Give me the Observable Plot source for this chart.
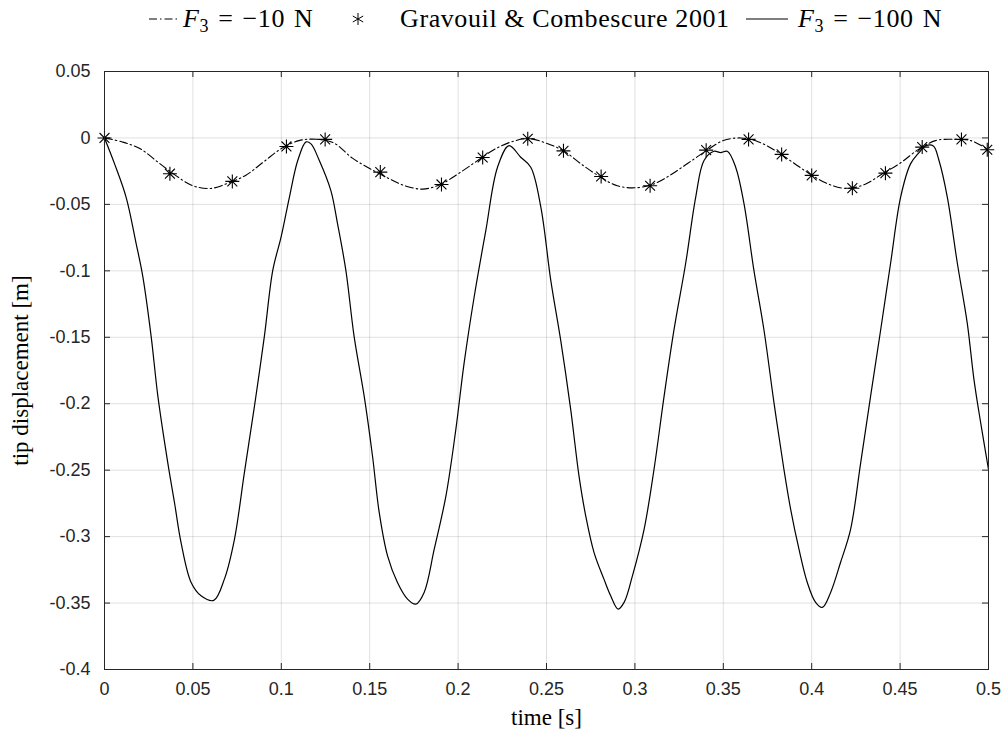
<!DOCTYPE html>
<html>
<head>
<meta charset="utf-8">
<script src="https://cdn.jsdelivr.net/npm/d3@7"></script>
<script src="https://cdn.jsdelivr.net/npm/@observablehq/plot@0.6"></script>
<style>
  body { margin: 0; background: #fff; }
  #wrap { width: 1008px; height: 744px; position: relative; overflow: hidden; }
  #legend { position: absolute; left: 0; top: 0; width: 1008px; height: 40px; font-family: "Liberation Serif", serif; font-size: 26px; letter-spacing: 0.6px; color: #000; }
  #legend .it { position: absolute; top: 4px; height: 30px; display: flex; align-items: center; white-space: nowrap; }
  #legend .tx { display: inline-block; white-space: nowrap; line-height: 30px; }
  #legend .fx { word-spacing: 2px; }
  #legend sub { font-size: 18px; vertical-align: -5px; line-height: 0; }
  #chart { position: absolute; left: 0; top: 40px; }
</style>
</head>
<body>
<div id="wrap">
  <div id="legend"></div>
  <div id="chart"></div>
</div>
<script>
// ---- data ----
const xTicks = [0, 0.05, 0.1, 0.15, 0.2, 0.25, 0.3, 0.35, 0.4, 0.45, 0.5];
const yTicks = [0.05, 0, -0.05, -0.1, -0.15, -0.2, -0.25, -0.3, -0.35, -0.4];

// F3 = -10 N (dash-dot)
const t10 = [0, 0.01, 0.02, 0.03, 0.04, 0.05, 0.06, 0.07, 0.08, 0.09, 0.10, 0.11, 0.12, 0.13, 0.14, 0.15, 0.16, 0.17, 0.18, 0.19, 0.20, 0.21, 0.22, 0.23, 0.24, 0.25, 0.26, 0.27, 0.28, 0.29, 0.30, 0.31, 0.32, 0.33, 0.34, 0.35, 0.36, 0.37, 0.38, 0.39, 0.40, 0.41, 0.42, 0.43, 0.44, 0.45, 0.46, 0.47, 0.48, 0.49, 0.50];
const disp10 = [0, -0.003, -0.008, -0.018, -0.028, -0.036, -0.038, -0.034, -0.028, -0.018, -0.008, -0.002, -0.001, -0.004, -0.015, -0.023, -0.030, -0.036, -0.0385, -0.035, -0.027, -0.018, -0.009, -0.003, -0.0005, -0.004, -0.010, -0.020, -0.029, -0.036, -0.0375, -0.035, -0.028, -0.019, -0.010, -0.002, 0, -0.003, -0.010, -0.019, -0.028, -0.035, -0.038, -0.035, -0.027, -0.019, -0.009, -0.002, -0.001, -0.002, -0.009];

// Gravouil & Combescure 2001 (stars)
const tStar = [0, 0.037, 0.0723, 0.1029, 0.1248, 0.156, 0.1906, 0.2139, 0.2394, 0.2596, 0.2809, 0.3086, 0.3403, 0.3643, 0.383, 0.400, 0.423, 0.4417, 0.4625, 0.4847, 0.4993];
const dispStar = [0, -0.0269, -0.0327, -0.0064, -0.0011, -0.0257, -0.035, -0.0147, -0.0006, -0.0097, -0.029, -0.036, -0.0092, -0.0011, -0.0124, -0.0282, -0.0378, -0.0265, -0.0069, -0.0011, -0.0089];

// F3 = -100 N (solid)
const t100 = [0, 0.0057, 0.0122, 0.0179, 0.0217, 0.0264, 0.0302, 0.0358, 0.0396, 0.0433, 0.049, 0.0546, 0.0618, 0.0678, 0.0735, 0.0791, 0.0848, 0.0904, 0.0952, 0.0999, 0.1046, 0.1093, 0.114, 0.1168, 0.1215, 0.128,
  0.1318, 0.1365, 0.1412, 0.1469, 0.1516, 0.1554, 0.1601, 0.1657, 0.1714, 0.1761, 0.1808, 0.1865, 0.1931, 0.1987, 0.2034, 0.2091, 0.2157, 0.2223, 0.2288, 0.2354, 0.2411, 0.2468, 0.2524, 0.258,
  0.2637, 0.2684, 0.2722, 0.2769, 0.2825, 0.2863, 0.2905, 0.2939, 0.2986, 0.3052, 0.3108, 0.3165, 0.3221, 0.3287, 0.3344, 0.3391, 0.3447, 0.3485, 0.3523, 0.357, 0.3617, 0.3673, 0.373, 0.3787, 0.3843, 0.3881,
  0.3928, 0.3975, 0.4022, 0.406, 0.4107, 0.4163, 0.422, 0.4277, 0.4333, 0.439, 0.4446, 0.4503, 0.4559, 0.4607, 0.4644, 0.4688, 0.472, 0.4767, 0.4824, 0.488, 0.4918, 0.4956, 0.5];
const disp100 = [0, -0.0195, -0.0445, -0.0795, -0.1045, -0.1495, -0.1945, -0.2445, -0.2745, -0.3045, -0.3345, -0.3445, -0.348, -0.332, -0.302, -0.252, -0.202, -0.1495, -0.0995, -0.0745, -0.0445, -0.017, -0.003, -0.0045, -0.017, -0.0395,
  -0.0645, -0.0995, -0.1495, -0.1945, -0.2395, -0.282, -0.3145, -0.3345, -0.347, -0.3508, -0.342, -0.3095, -0.2695, -0.2195, -0.1695, -0.1195, -0.0695, -0.022, -0.0058, -0.0145, -0.022, -0.052, -0.107, -0.152,
  -0.2045, -0.2545, -0.2845, -0.312, -0.332, -0.3445, -0.3545, -0.3495, -0.3295, -0.2945, -0.2495, -0.1945, -0.1445, -0.0945, -0.0445, -0.017, -0.010, -0.011, -0.010, -0.022, -0.0495, -0.0995, -0.1445, -0.1995, -0.2495, -0.2795,
  -0.3095, -0.3345, -0.3495, -0.3533, -0.342, -0.3195, -0.2945, -0.2445, -0.1945, -0.1445, -0.0945, -0.0445, -0.0195, -0.011, -0.006, -0.006, -0.017, -0.0445, -0.0945, -0.1395, -0.182, -0.2145, -0.2495];

const legendLabels = ["F3 = −10 N", "Gravouil & Combescure 2001", "F3 = −100 N"];

// ---- build tables ----
const ref10 = t10.map((t, i) => ({t, d: disp10[i]}));
const stars = tStar.map((t, i) => ({t, d: dispStar[i]}));
const ref100 = t100.map((t, i) => ({t, d: disp100[i]}));

// MATLAB-like 8-arm asterisk
const asterisk8 = {
  draw(context, size) {
    const r = Math.sqrt(size / Math.PI);
    const k = r * Math.SQRT1_2;
    context.moveTo(0, -r); context.lineTo(0, r);
    context.moveTo(-r, 0); context.lineTo(r, 0);
    context.moveTo(-k, -k); context.lineTo(k, k);
    context.moveTo(-k, k); context.lineTo(k, -k);
  }
};

const W = 1008, H = 704;
const mL = 104, mR = 20, mT = 31, mB = 75;
const fw = W - mL - mR, fh = H - mT - mB;
const tk = 6;
const fmt = d => String(Math.round(d * 100) / 100);
const dashDot = "8,3,1.5,3";

const chart = Plot.plot({
  width: W, height: H,
  marginLeft: mL, marginRight: mR, marginTop: mT, marginBottom: mB,
  style: {fontFamily: "'Liberation Sans', Arial, sans-serif", fontSize: "18px", color: "#262626", background: "#fff"},
  x: {domain: [0, 0.5], ticks: xTicks, tickFormat: fmt, label: null},
  y: {domain: [-0.4, 0.05], ticks: yTicks, tickFormat: fmt, label: null},
  marks: [
    Plot.gridX(xTicks, {stroke: "#000", strokeOpacity: 0.12}),
    Plot.gridY(yTicks, {stroke: "#000", strokeOpacity: 0.12}),
    Plot.axisX(xTicks, {tickSize: 0, tickPadding: 13, tickFormat: fmt, fontSize: 18, fill: "#262626", label: null}),
    Plot.axisY(yTicks, {tickSize: 0, tickPadding: 14, tickFormat: fmt, fontSize: 18, fill: "#262626", label: null}),
    // inward ticks on all four sides
    Plot.tickX(xTicks, {x: d => d, insetTop: fh - tk, stroke: "#262626"}),
    Plot.tickX(xTicks, {x: d => d, insetBottom: fh - tk, stroke: "#262626"}),
    Plot.tickY(yTicks, {y: d => d, insetRight: fw - tk, stroke: "#262626"}),
    Plot.tickY(yTicks, {y: d => d, insetLeft: fw - tk, stroke: "#262626"}),
    Plot.line(ref10, {x: "t", y: "d", curve: "catmull-rom", stroke: "#000", strokeWidth: 1.1, strokeDasharray: dashDot}),
    Plot.line(ref100, {x: "t", y: "d", curve: "catmull-rom", stroke: "#000", strokeWidth: 1.2}),
    Plot.dot(stars, {x: "t", y: "d", symbol: asterisk8, r: 7, fill: "none", stroke: "#000", strokeWidth: 1.1}),
    Plot.frame({stroke: "#262626", strokeWidth: 1}),
    Plot.text(["time [s]"], {frameAnchor: "bottom", textAnchor: "middle", dy: 55, fontFamily: "'Liberation Serif', serif", fontSize: 23, fill: "#000"}),
    Plot.text(["tip displacement [m]"], {frameAnchor: "left", textAnchor: "middle", dx: -84, rotate: -90, fontFamily: "'Liberation Serif', serif", fontSize: 23, fill: "#000"})
  ]
});
document.getElementById("chart").appendChild(chart);

// ---- legend ----
const fmtF = s => s.replace(/^F3 /, "<i>F</i><sub>3</sub> ");
const lg = document.getElementById("legend");
lg.innerHTML = `
  <span class="it" style="left:148px"><svg width="32" height="12"><line x1="1" y1="6" x2="31" y2="6" stroke="#000" stroke-width="1.1" stroke-dasharray="${dashDot}"/></svg></span>
  <span class="it" style="left:183px"><span class="tx fx">${fmtF(legendLabels[0])}</span></span>
  <span class="it" style="left:349px"><svg width="18" height="18"><g transform="translate(9,9)" stroke="#000" stroke-width="1"><line x1="0" y1="-6" x2="0" y2="6"/><line x1="-5.2" y1="-3" x2="5.2" y2="3"/><line x1="-5.2" y1="3" x2="5.2" y2="-3"/></g></svg></span>
  <span class="it" style="left:400px"><span class="tx">${legendLabels[1].replace("&", "&amp;")}</span></span>
  <span class="it" style="left:745px"><svg width="44" height="12"><line x1="1" y1="6" x2="43" y2="6" stroke="#000" stroke-width="1.2"/></svg></span>
  <span class="it" style="left:798px"><span class="tx fx">${fmtF(legendLabels[2])}</span></span>`;
</script>
</body>
</html>
